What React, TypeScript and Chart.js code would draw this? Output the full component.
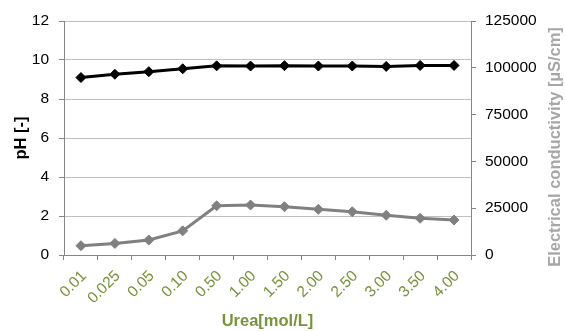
import { useEffect, useRef } from 'react';
import { Chart, registerables } from 'chart.js';

Chart.register(...registerables);

const categories = ['0.01', '0.025', '0.05', '0.10', '0.50', '1.00', '1.50', '2.00', '2.50', '3.00', '3.50', '4.00'];
const phValues = [9.1, 9.27, 9.4, 9.55, 9.7, 9.69, 9.71, 9.69, 9.69, 9.67, 9.72, 9.72];
const conductivityValues = [4960, 6200, 8000, 12900, 26300, 26700, 25800, 24400, 23100, 21200, 19600, 18700];

const phMin = 0;
const phMax = 12;
const phStep = 2;
const condMin = 0;
const condMax = 125000;
const condStep = 25000;

const xTitle = 'Urea[mol/L]';
const leftTitle = 'pH [-]';
const rightTitle = 'Electrical conductivity [µS/cm]';

const FONT = 'Arial, "Liberation Sans", sans-serif';
const GREEN = '#77933C';
const AXIS = '#868686';
const GRID = '#c0c0c0';

const rightTitlePlugin = {
  id: 'rightTitle',
  afterDraw(chart: any) {
    const { ctx, chartArea } = chart;
    const s = chart.scales.y1;
    ctx.save();
    ctx.translate(s.right - 10, (chartArea.top + chartArea.bottom) / 2 + 9);
    ctx.rotate(-Math.PI / 2);
    ctx.font = `bold 16.5px ${FONT}`;
    ctx.fillStyle = '#a6a6a6';
    ctx.textAlign = 'center';
    ctx.textBaseline = 'middle';
    ctx.fillText(rightTitle, 0, 0);
    ctx.restore();
  },
};

export default function App() {
  const ref = useRef<HTMLCanvasElement>(null);
  useEffect(() => {
    if (!ref.current) return;
    const chart = new Chart(ref.current, {
      type: 'line',
      data: {
        labels: categories,
        datasets: [
          {
            label: 'pH',
            data: phValues,
            yAxisID: 'y',
            borderColor: '#000000',
            backgroundColor: '#000000',
            borderWidth: 3,
            pointStyle: 'rectRot',
            pointRadius: 5,
            pointBorderWidth: 1,
            tension: 0,
          },
          {
            label: 'EC',
            data: conductivityValues,
            yAxisID: 'y1',
            borderColor: '#808080',
            backgroundColor: '#808080',
            borderWidth: 3,
            pointStyle: 'rectRot',
            pointRadius: 5,
            pointBorderWidth: 1,
            tension: 0,
          },
        ],
      },
      options: {
        responsive: false,
        animation: false,
        layout: { padding: { top: 21, left: 0, right: 0, bottom: 0 } },
        plugins: { legend: { display: false }, tooltip: { enabled: false } },
        scales: {
          x: {
            offset: true,
            grid: { offset: true, drawOnChartArea: false, drawTicks: true, tickLength: 5, tickColor: AXIS, color: AXIS },
            border: { color: AXIS, width: 1 },
            ticks: {
              color: GREEN,
              font: { family: FONT, size: 15.5 },
              minRotation: 45,
              maxRotation: 45,
              padding: 7,
              labelOffset: 3,
              autoSkip: false,
            },
            title: {
              display: true,
              text: xTitle,
              color: GREEN,
              font: { family: FONT, size: 16.5, weight: 'bold' },
              padding: { top: 0, bottom: 0 },
            },
            afterFit(scale: any) {
              scale.height = 76;
            },
          },
          y: {
            position: 'left',
            min: phMin,
            max: phMax,
            grid: { color: GRID, tickColor: AXIS, tickLength: 5, lineWidth: 1 },
            border: { color: AXIS, width: 1 },
            ticks: {
              stepSize: phStep,
              color: '#000000',
              font: { family: FONT, size: 15.5 },
              padding: 10,
            },
            title: {
              display: true,
              text: leftTitle,
              color: '#000000',
              font: { family: FONT, size: 16.5, weight: 'bold' },
              padding: { top: 12, bottom: 0 },
            },
            afterFit(scale: any) {
              scale.width = 64;
            },
          },
          y1: {
            position: 'right',
            min: condMin,
            max: condMax,
            grid: { drawOnChartArea: false, tickColor: AXIS, tickLength: 5 },
            border: { color: AXIS, width: 1 },
            ticks: {
              stepSize: condStep,
              color: '#000000',
              font: { family: FONT, size: 15.5 },
              padding: 9,
              callback: (v: any) => String(v),
            },
            afterFit(scale: any) {
              scale.width = 94;
            },
          },
        },
      },
      plugins: [rightTitlePlugin],
    } as any);
    return () => chart.destroy();
  }, []);
  return (
    <div style={{ position: 'absolute', left: 0, top: 0, width: 565, height: 331 }}>
      <canvas ref={ref} width={565} height={331} />
    </div>
  );
}
